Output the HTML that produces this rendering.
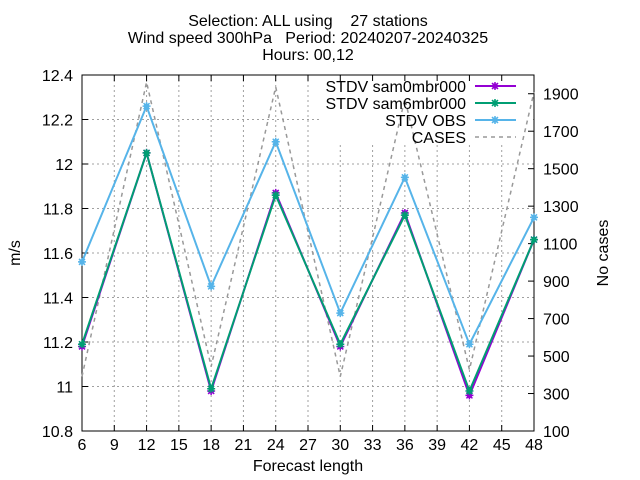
<!DOCTYPE html>
<html><head><meta charset="utf-8"><style>
body{margin:0;background:#fff}
svg{font-family:"Liberation Sans",sans-serif;display:block}
</style></head><body>
<svg id="c" width="640" height="480">
<text x="308" y="26" font-size="16" text-anchor="middle" xml:space="preserve">Selection: ALL using    27 stations</text>
<text x="308" y="43" font-size="16" text-anchor="middle" xml:space="preserve">Wind speed 300hPa   Period: 20240207-20240325</text>
<text x="308" y="60" font-size="16" text-anchor="middle">Hours: 00,12</text>
<text x="0" y="0" font-size="16" text-anchor="middle" transform="translate(20,253) rotate(-90)">m/s</text>
<text x="0" y="0" font-size="16" text-anchor="middle" transform="translate(608,253) rotate(-90)">No cases</text>
<text x="308" y="471" font-size="16" text-anchor="middle">Forecast length</text>
<g id="grid"></g><g id="ticks"></g><g id="series"></g><g id="legend"></g>
</svg>
<script>
const xs=[6,12,18,24,30,36,42,48];
const sam0=[11.18,12.05,10.98,11.87,11.18,11.78,10.96,11.66];
const sam6=[11.19,12.05,10.99,11.86,11.19,11.77,10.98,11.66];
const obs=[11.56,12.26,11.45,12.10,11.33,11.94,11.19,11.76];
const cases=[391,1962,444,1936,391,1873,427,1909];
const xTicks=[6,9,12,15,18,21,24,27,30,33,36,39,42,45,48];
const yTicks=[10.8,11,11.2,11.4,11.6,11.8,12,12.2,12.4];
const y2Ticks=[100,300,500,700,900,1100,1300,1500,1700,1900];
const L=82,R=534,T=75,B=431;
const X=v=>L+(v-6)/(48-6)*(R-L);
const Y=v=>B-(v-10.8)/(1.6)*(B-T);
const Y2=v=>B-(v-100)/1900*(B-T);
const NS="http://www.w3.org/2000/svg";
function mk(tag,attrs,parent){const e=document.createElementNS(NS,tag);for(const k in attrs)e.setAttribute(k,attrs[k]);parent.appendChild(e);return e;}
const grid=document.getElementById('grid'),ticks=document.getElementById('ticks'),ser=document.getElementById('series'),leg=document.getElementById('legend');
xTicks.forEach(t=>{const x=X(t);
 if(t>6&&t<48){const g=mk('line',{x1:x,x2:x,y1:T,y2:B,stroke:'#a0a0a0','stroke-dasharray':'2,3'},grid);
 
 }
 mk('line',{x1:x,x2:x,y1:B,y2:B-6,stroke:'#000'},ticks);mk('line',{x1:x,x2:x,y1:T,y2:T+6,stroke:'#000'},ticks);
 const tx=mk('text',{x:x,y:B+19,'font-size':16,'text-anchor':'middle'},ticks);tx.textContent=t;
 
 });
yTicks.forEach(t=>{const y=Y(t);
 if(t>10.8&&t<12.4){const g=mk('line',{x1:L,x2:R,y1:y,y2:y,stroke:'#a0a0a0','stroke-dasharray':'2,3'},grid);
 
 }
 mk('line',{x1:L,x2:L+6,y1:y,y2:y,stroke:'#000'},ticks);
 const tx=mk('text',{x:L-9,y:y+6,'font-size':16,'text-anchor':'end'},ticks);tx.textContent=String(Math.round(t*10)/10);
 
 });
const mask=mk('rect',{x:322,y:T+1,width:R-323,height:66,fill:'#fff'},grid);


y2Ticks.forEach(t=>{const y=Y2(t);
 mk('line',{x1:R,x2:R-6,y1:y,y2:y,stroke:'#000'},ticks);
 const tx=mk('text',{x:R+9,y:y+6,'font-size':16},ticks);tx.textContent=t;
 
 });
const box=mk('rect',{x:L,y:T,width:R-L,height:B-T,fill:'none',stroke:'#000'},ticks);


function star(x,y,c,p){const d=`M${x-4},${y}h8M${x},${y-4}v8M${x-3},${y-3}l6,6M${x-3},${y+3}l6,-6`;mk('path',{d:d,stroke:c,'stroke-width':1.5,fill:'none'},p);mk('rect',{x:x-2.5,y:y-2.5,width:5,height:5,fill:c},p);}
function line(vals,yf,color,name,dash){
 const g=mk('g',{},ser);
 
 
 const pts=vals.map((v,i)=>X(xs[i])+','+yf(v)).join(' ');
 const a={points:pts,fill:'none',stroke:color,'stroke-width':dash?1.5:2};if(dash)a['stroke-dasharray']='4,4';
 mk('polyline',a,g);
 if(!dash)vals.forEach((v,i)=>star(X(xs[i]),yf(v),color,g));}
line(cases,Y2,'#999999','cases-line',true);
line(sam0,Y,'#9400d3','sam0mbr000-line');
line(obs,Y,'#56b4e9','obs-line');
line(sam6,Y,'#009e73','sam6mbr000-line');
const items=[['STDV sam0mbr000','#9400d3',0],['STDV sam6mbr000','#009e73',0],['STDV OBS','#56b4e9',0],['CASES','#999999',1]];
items.forEach((it,i)=>{const y=86+i*17;const g=mk('g',{},leg);
 
 
 const t=mk('text',{x:466,y:y+6,'font-size':16,'text-anchor':'end'},g);t.textContent=it[0];
 const a={x1:475,x2:516,y1:y,y2:y,stroke:it[1],'stroke-width':it[2]?1.5:2};if(it[2])a['stroke-dasharray']='4,4';
 mk('line',a,g);if(!it[2])star(495,y,it[1],g);});
</script>
</body></html>
